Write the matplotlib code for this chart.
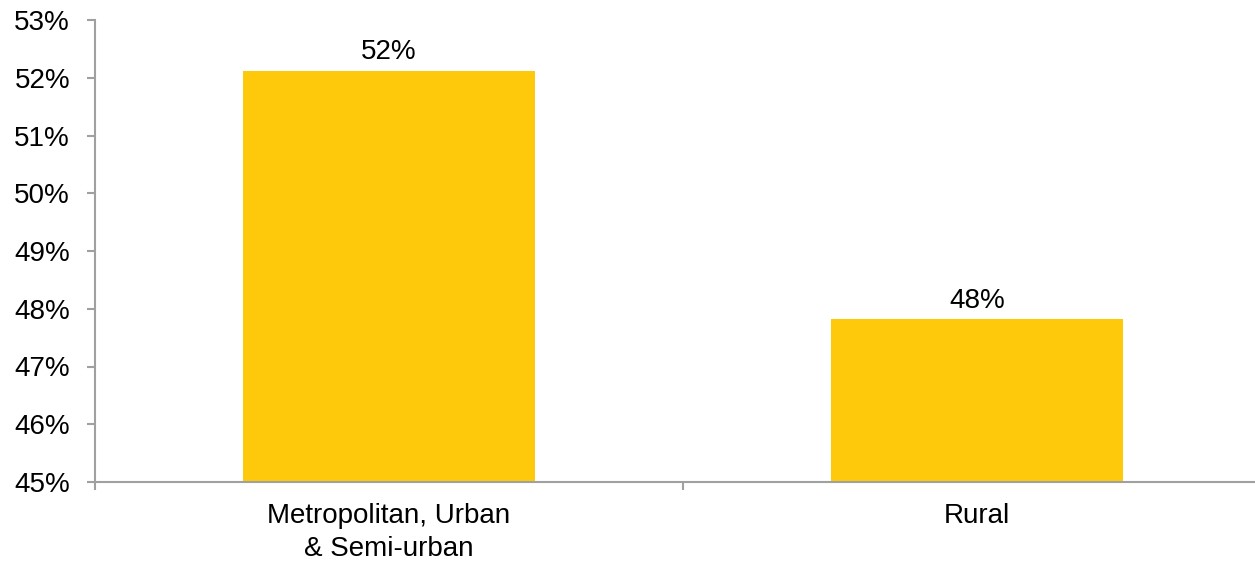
import matplotlib
matplotlib.use("Agg")
import matplotlib.pyplot as plt

plt.rcParams["font.family"] = ["Liberation Sans", "DejaVu Sans"]

categories = ["Metropolitan, Urban\n& Semi-urban", "Rural"]
shares = [52.12, 47.82]
y_ticks = [45, 46, 47, 48, 49, 50, 51, 52, 53]

BAR_COLOR = "#FFC90B"
AXIS_COLOR = "#A0A0A0"
FS = 20

fig = plt.figure(figsize=(12.55, 5.62), dpi=100)
ax = fig.add_axes([95 / 1255, 80 / 562, 1160 / 1255, 462 / 562])

x = list(range(len(categories)))
ax.bar(x, shares, width=0.495, color=BAR_COLOR, zorder=2)

for xi, v in zip(x, shares):
    ax.annotate(f"{v:.0f}%", (xi, v), xytext=(0, 4), textcoords="offset points",
                ha="center", va="bottom", fontsize=FS)

ax.set_yticks(y_ticks)
ax.set_yticklabels([f"{t}%" for t in y_ticks], fontsize=FS)

# category boundaries carry the tick marks, labels sit between them
ax.set_xticks([-0.5, 0.5, 1.5])
ax.set_xticklabels([])
ax.set_xticks(x, minor=True)
ax.set_xticklabels(categories, minor=True, fontsize=FS, linespacing=1.36)
ax.tick_params(axis="x", which="major", length=6, width=1.5, color=AXIS_COLOR, direction="out")
ax.tick_params(axis="x", which="minor", length=0, pad=15)
ax.tick_params(axis="y", length=6, width=1.5, color=AXIS_COLOR, pad=12)

# limits last, set_xticks would otherwise widen the view
ax.set_ylim(45, 53)
ax.set_xlim(-0.5, -0.5 + 1160 / 588)

for side in ("top", "right"):
    ax.spines[side].set_visible(False)
for side in ("left", "bottom"):
    ax.spines[side].set_color(AXIS_COLOR)
    ax.spines[side].set_linewidth(1.5)

fig.savefig("out.png", dpi=100)
